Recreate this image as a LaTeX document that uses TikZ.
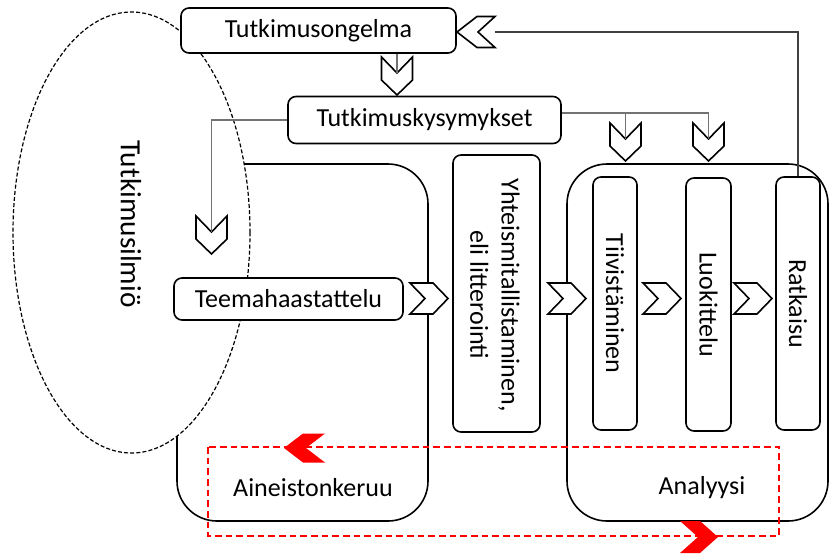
\documentclass[tikz,border=0pt]{standalone}
\usepackage{fontspec}
\setmainfont{Carlito}
\usetikzlibrary{shapes.geometric}
\begin{document}
\begin{tikzpicture}[x=0.75pt,y=-0.75pt,
  box/.style={draw=black, line width=1.2pt, fill=white, rounded corners=6pt, inner sep=0pt},
  bigbox/.style={draw=black, line width=1.2pt, fill=white, rounded corners=30pt, inner sep=0pt},
  lbl/.style={font=\fontsize{19.5}{23.5}\selectfont, inner sep=0pt, align=center},
  conn/.style={draw=black!55, line width=0.8pt},
  conntop/.style={draw=black!75, line width=0.8pt},
  chev/.style={draw=black, line width=1.2pt, fill=white, line join=miter},
  redchev/.style={fill=red, draw=none},
  reddash/.style={draw=red, line width=1.2pt, dash pattern=on 5pt off 3pt},
  chevD/.pic={\path[chev] (-15.5,0) -- (0,16) -- (15.5,0) -- (15.5,23) -- (0,38) -- (-15.5,23) -- cycle;
              \coordinate (-n) at (0,16);},
  chevR/.pic={\path[chev] (0,-15.5) -- (23,-15.5) -- (38,0) -- (23,15.5) -- (0,15.5) -- (15,0) -- cycle;},
  chevL/.pic={\path[chev] (0,0) -- (20,-15.5) -- (38,-15.5) -- (21,0) -- (38,15.5) -- (20,15.5) -- cycle;
              \coordinate (-e) at (38,0);},
  redL/.pic={\path[redchev] (0,0) -- (19,-14.5) -- (41,-14.5) -- (22,0) -- (41,14.5) -- (19,14.5) -- cycle;},
  redR/.pic={\path[redchev] (0,0) -- (-18,-16) -- (-38,-16) -- (-20,0) -- (-38,16) -- (-18,16) -- cycle;},
]
\useasboundingbox (0,0) rectangle (830,554);
\fill[white] (0,0) rectangle (830,554);

% big group boxes
\node[bigbox, minimum width=188.25pt, minimum height=267.75pt] (aine) at (302.5,342.5) {};
\node[bigbox, minimum width=195.75pt, minimum height=267.75pt] (anal) at (697.5,342.5) {};
\node[lbl] (aineT) at (313,488) {Aineistonkeruu};
\node[lbl] (analT) at (702,488) {Analyysi};

% phenomenon ellipse
\node[ellipse, draw=black, line width=0.9pt, dash pattern=on 3pt off 1.6pt, fill=white,
      minimum width=177.75pt, minimum height=330.75pt, inner sep=0pt] (ell) at (131.5,232.5) {};
\node[lbl, font=\fontsize{22}{26}\selectfont, rotate=-90] (ellT) at (131,224) {Tutkimusilmiö};

% boxes
\node[box, minimum width=206.25pt, minimum height=33.75pt] (tong) at (318.5,30.5) {};
\node[lbl] at (tong) {Tutkimusongelma};
\node[box, minimum width=204.75pt, minimum height=35.25pt] (tkys) at (424.5,120) {};
\node[lbl] at (tkys) {Tutkimuskysymykset};
\node[box, minimum width=171.75pt, minimum height=31.5pt] (teem) at (288.5,299) {};
\node[lbl] at (teem) {Teemahaastattelu};

\node[box, minimum width=65.25pt, minimum height=207.75pt] (yht) at (496.5,293.5) {};
\node[lbl, rotate=-90] (yhtT) at (495,295) {Yhteismitallistaminen,\\eli litterointi};
\node[box, minimum width=33pt, minimum height=189.75pt] (tiiv) at (615,303.5) {};
\node[lbl, rotate=-90] (tiivT) at (tiiv) {Tiivistäminen};
\node[box, minimum width=33.75pt, minimum height=189.75pt] (luok) at (708.5,304.5) {};
\node[lbl, rotate=-90] (luokT) at (luok) {Luokittelu};
\node[box, minimum width=33pt, minimum height=189.75pt] (ratk) at (798,303.5) {};
\node[lbl, rotate=-90] (ratkT) at (ratk) {Ratkaisu};

% connectors
\coordinate (rline) at (600,113);
\pic (cd1) at (397,57) {chevD};
\pic (cd2) at (211.5,216) {chevD};
\pic (cd3) at (625.5,123) {chevD};
\pic (cd4) at (708.5,123) {chevD};
\draw[conn] (cd1-n) -- (cd1-n |- tong.south);
\draw[conn] (tkys.west) -| (cd2-n);
\draw[conn] (tkys.east |- rline) -| (cd4-n);
\draw[conn] (cd3-n) -- (cd3-n |- rline);

\pic (cl) at (457,32) {chevL};
\draw[conntop] (ratk.north) -- (ratk.north |- cl-e) -- (cl-e);

\pic (cr1) at (410,298.5) {chevR};
\pic (cr2) at (548,298.5) {chevR};
\pic (cr3) at (643,298.5) {chevR};
\pic (cr4) at (734,298.5) {chevR};

% red feedback loop
\draw[reddash] (208,447) rectangle (779,536);
\pic at (284,448) {redL};
\pic at (718,537) {redR};
\end{tikzpicture}
\end{document}
